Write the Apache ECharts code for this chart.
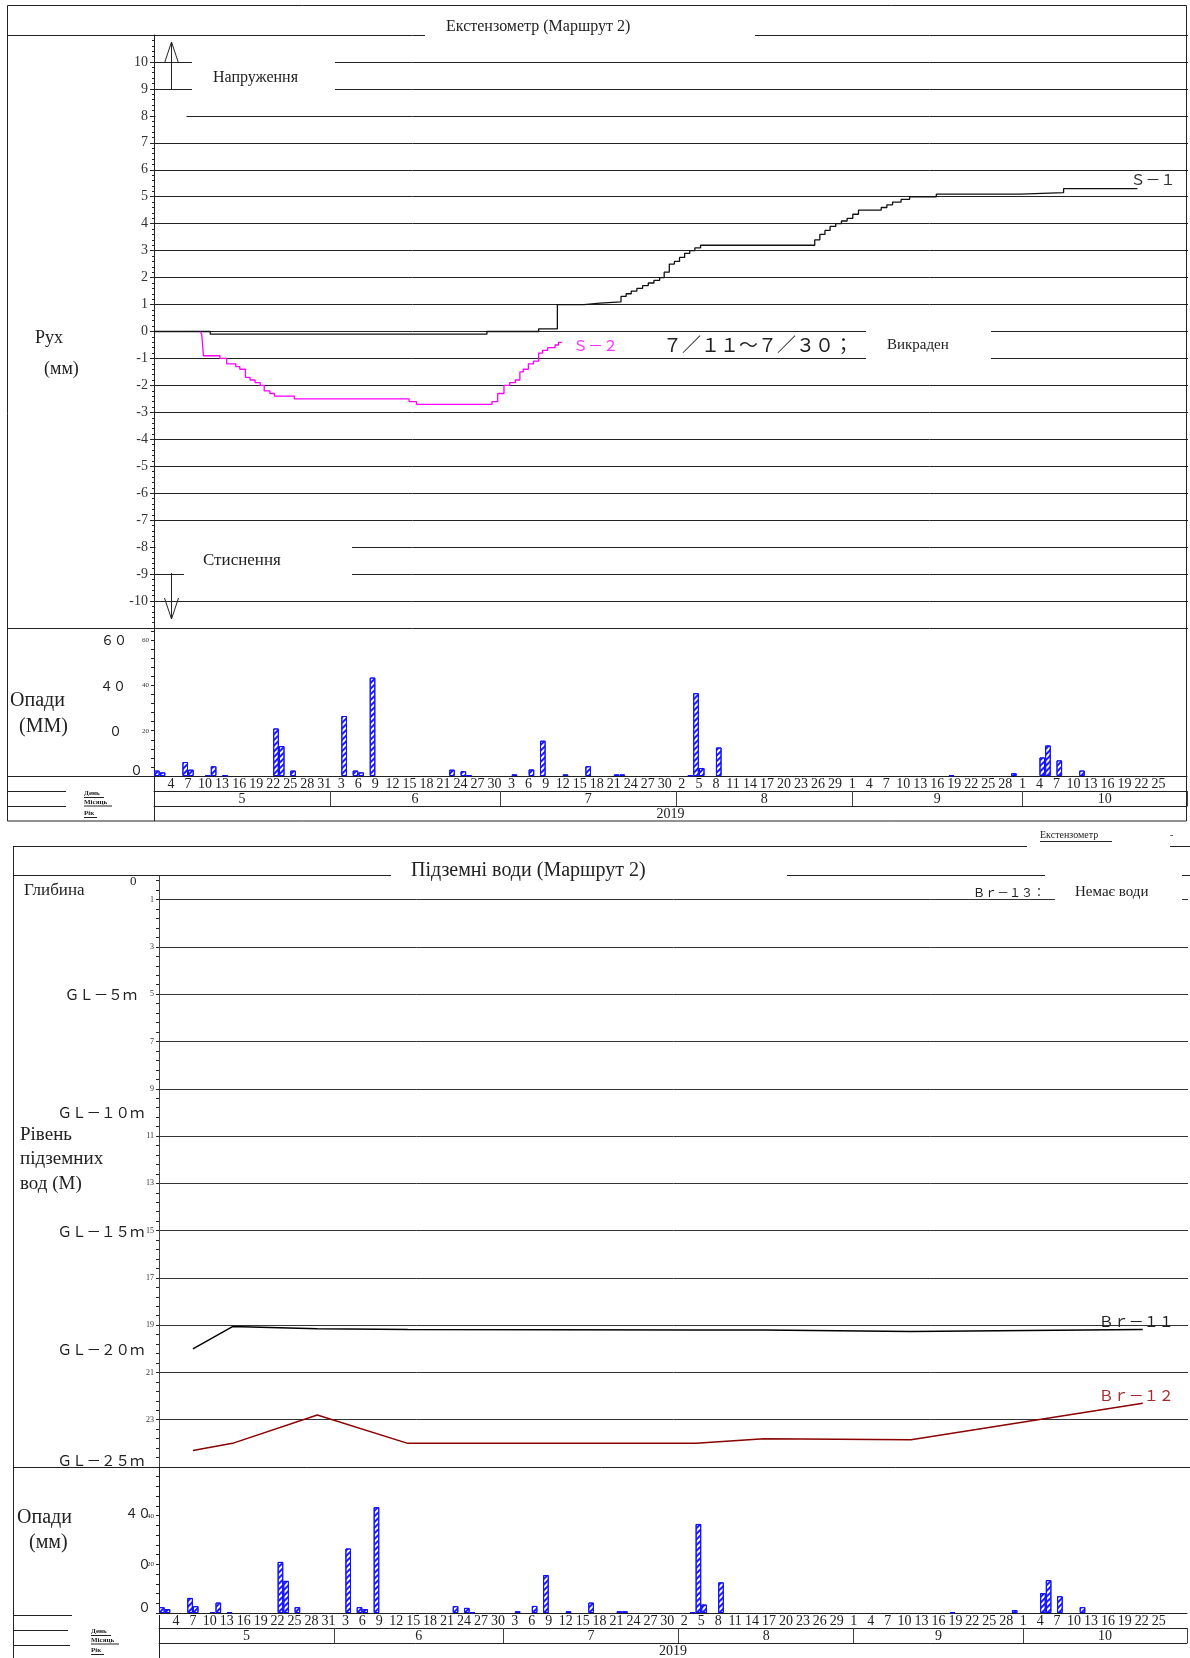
<!DOCTYPE html>
<html>
<head>
<meta charset="utf-8">
<script src="https://cdn.jsdelivr.net/npm/echarts@6/dist/echarts.min.js"></script>
<style>
  html, body { margin: 0; padding: 0; background: #fff; }
  #c { width: 1190px; height: 1658px; }
</style>
</head>
<body>
<div id="c"></div>
<script>
// Day numbers count from 1 May 2019 (day 0); the time axis runs to day 182.
const BASE = Date.UTC(2019, 4, 1);
const DAY_END = 182;

// Extensometer S-1: day a reading level starts, displacement (mm)
const s1Day = [0, 9.9, 58.6, 67.7, 71.0, 75.7, 78.5, 82.2, 83.1, 84.0, 85.0, 86.0, 87.0, 88.0, 89.0, 89.8, 90.7, 91.6, 92.5, 93.4, 94.3, 95.2, 96.2, 116.3, 117.2, 118.1, 119.0, 120.0, 121.0, 122.0, 123.0, 124.0, 128.0, 129.0, 130.0, 131.5, 133.0, 137.7, 152.6, 160.1, 173.1];
const s1Mm  = [0, -0.1, 0, 0.1, 1.0, 1.05, 1.1, 1.3, 1.4, 1.5, 1.6, 1.7, 1.8, 1.9, 2.0, 2.2, 2.5, 2.6, 2.75, 2.9, 3.0, 3.1, 3.2, 3.4, 3.6, 3.75, 3.9, 4.0, 4.1, 4.2, 4.35, 4.5, 4.6, 4.7, 4.8, 4.9, 5.0, 5.1, 5.15, 5.3, 5.3];

// Extensometer S-2 (stolen 7/11 - 7/30, record stops)
const s2Day = [8.1, 8.4, 8.7, 11.6, 12.8, 14.4, 15.1, 16.1, 16.9, 17.8, 18.7, 19.4, 20.4, 21.2, 24.7, 44.9, 46.2, 59.5, 60.5, 61.6, 62.6, 63.6, 64.4, 65.0, 65.9, 66.8, 67.7, 68.4, 69.3, 70.6, 71.2, 71.8];
const s2Mm  = [0, -0.1, -0.9, -1.0, -1.2, -1.3, -1.4, -1.7, -1.8, -1.9, -2.0, -2.2, -2.3, -2.4, -2.5, -2.6, -2.7, -2.6, -2.3, -2.0, -1.9, -1.8, -1.5, -1.4, -1.2, -1.1, -0.8, -0.7, -0.6, -0.5, -0.4, -0.4];

// Daily rainfall (mm)
const rainDay = [0, 1, 5, 6, 9, 10, 12, 21, 22, 24, 33, 35, 36, 38, 52, 54, 55, 63, 66, 68, 72, 76, 81, 82, 94, 95, 96, 99, 140, 151, 156, 157, 159, 163];
const rainMm  = [2.4, 1.6, 6.2, 2.8, 0.4, 4.3, 0.3, 21.0, 13.2, 2.4, 26.5, 2.4, 1.6, 43.5, 2.8, 2.1, 0.3, 0.7, 2.9, 15.6, 0.7, 4.3, 0.7, 0.7, 0.3, 36.6, 3.5, 12.6, 0.3, 1.2, 8.2, 13.5, 6.9, 2.4];

// Groundwater depth below ground level (m)
const gwDay      = [6, 13, 28, 44, 95, 107, 133, 174];
const br11Depth  = [20.0, 19.06, 19.15, 19.18, 19.2, 19.2, 19.27, 19.18];
const br12Depth  = [24.3, 24.0, 22.8, 24.0, 24.0, 23.8, 23.85, 22.3];

// Calendar rows
const monthStartDay = [0, 31, 61, 92, 123, 153];
const monthLabel = ['5', '6', '7', '8', '9', '10'];
const yearLabel = '2019';

// Axis tick values
const moveTicks = [-10, -9, -8, -7, -6, -5, -4, -3, -2, -1, 0, 1, 2, 3, 4, 5, 6, 7, 8, 9, 10];
const depthLabels = [1, 3, 5, 7, 9, 11, 13, 15, 17, 19, 21, 23];
const glLabels = ['ＧＬ－５ｍ', 'ＧＬ－１０ｍ', 'ＧＬ－１５ｍ', 'ＧＬ－２０ｍ', 'ＧＬ－２５ｍ'];

const SERIF = '"Liberation Serif", "Times New Roman", serif';
const CJK = '"Noto Sans CJK JP", sans-serif';
const INK = '#222';

const pairs = (xs, ys, dx) => xs.map((x, i) => [x + (dx || 0), ys[i]]);
const dayOfMonth = d => new Date(BASE + d * 86400000).getUTCDate();
const monthEdges = monthStartDay.concat([DAY_END]);
const monthMid = monthStartDay.map((d, i) => (d + monthEdges[i + 1]) / 2);
const range = (a, b, s) => { const r = []; for (let v = a; v <= b + 1e-9; v += s) r.push(+v.toFixed(2)); return r; };

function calendarAxes(gridIndex) {
  const base = { type: 'value', gridIndex, min: 0, max: DAY_END, position: 'bottom', splitLine: { show: false } };
  return [
    Object.assign({}, base, {
      interval: 3,
      axisLine: { show: true, onZero: false, lineStyle: { color: INK, width: 1 } },
      axisTick: { show: false },
      axisLabel: { margin: 1, fontFamily: SERIF, fontSize: 14, color: INK,
        formatter: v => (v <= 0 || v >= 180) ? '' : String(dayOfMonth(v)) }
    }),
    Object.assign({}, base, {
      offset: 15,
      axisLine: { show: true, onZero: false, lineStyle: { color: INK, width: 1 } },
      axisTick: { show: true, customValues: monthEdges, length: 15, lineStyle: { color: '#444' } },
      axisLabel: { customValues: monthMid, margin: 1, fontFamily: SERIF, fontSize: 14, color: INK,
        formatter: v => monthLabel[monthMid.findIndex(m => Math.abs(m - v) < 0.01)] || '' }
    }),
    Object.assign({}, base, {
      offset: 30,
      axisLine: { show: true, onZero: false, lineStyle: { color: INK, width: 1 } },
      axisTick: { show: false },
      axisLabel: { customValues: [DAY_END / 2], margin: 1, fontFamily: SERIF, fontSize: 14, color: INK,
        formatter: () => yearLabel }
    })
  ];
}

const hatch = {
  color: '#ffffff',
  borderColor: '#1010ff',
  borderWidth: 1,
  decal: { symbol: 'rect', symbolSize: 1, color: '#1a1aff', dashArrayX: [1, 0], dashArrayY: [1.3, 1.3], rotation: -Math.PI / 4 }
};

// ---------- fixed frame, captions and separators ----------
const G = [];
const ln = (x1, y1, x2, y2, c) => G.push({ type: 'line', z: 100, silent: true, shape: { x1, y1, x2, y2 }, style: { stroke: c || INK, lineWidth: 1 } });
const box = (x, y, width, height, z) => G.push({ type: 'rect', z: z || 100, silent: true, shape: { x, y, width, height }, style: { fill: '#fff' } });
const tx = (x, y, text, font, opt) => G.push(Object.assign({ type: 'text', z: 101, silent: true, x, y,
  style: Object.assign({ text, font, fill: INK, textAlign: 'left', textVerticalAlign: 'middle' }, (opt || {})) }));
// vertical arrow from y0 to the tip at y1; the head opens back toward y0
const arrow = (x, y0, y1) => {
  const back = y0 > y1 ? 21 : -21;
  G.push({ type: 'polyline', z: 100, silent: true, shape: { points: [[x, y0], [x, y1]] }, style: { stroke: INK, lineWidth: 1, fill: null } });
  G.push({ type: 'polyline', z: 100, silent: true, shape: { points: [[x - 7, y1 + back], [x, y1], [x + 7, y1 + back]] }, style: { stroke: INK, lineWidth: 1, fill: null } });
};

// upper frame
G.push({ type: 'rect', z: 100, silent: true, shape: { x: 7.5, y: 5.5, width: 1179, height: 815.5 }, style: { fill: null, stroke: INK, lineWidth: 1 } });
ln(7, 35.5, 154, 35.5);
box(425, 31, 330, 9);
tx(446, 27, 'Екстензометр (Маршрут 2)', '16px ' + SERIF);
ln(7, 628.5, 154, 628.5);
ln(7, 776.5, 154, 776.5);
ln(7, 791.5, 66, 791.5);
ln(7, 806.5, 66, 806.5);
ln(154.5, 776, 154.5, 821);
tx(84, 793, 'День', 'bold 7px ' + SERIF); ln(84, 797.5, 104, 797.5);
tx(84, 802, 'Місяць', 'bold 7px ' + SERIF); ln(84, 806.0, 112, 806.0);
tx(84, 813, 'Рік', 'bold 7px ' + SERIF); ln(84, 817.5, 97, 817.5);
tx(35, 338, 'Рух', '18px ' + SERIF);
tx(44, 369, '(мм)', '18px ' + SERIF);
tx(10, 701, 'Опади', '20px ' + SERIF);
tx(19, 727, '(ММ)', '20px ' + SERIF);
tx(127, 640, '６０', '13px ' + CJK, { textAlign: 'right' });
tx(126, 686, '４０', '13px ' + CJK, { textAlign: 'right' });
tx(122, 731, '０', '13px ' + CJK, { textAlign: 'right' });
tx(143, 770, '０', '13px ' + CJK, { textAlign: 'right' });

// tension / compression captions
box(192, 57, 143, 37);
box(155.5, 112, 31, 8);
tx(213, 78, 'Напруження', '16px ' + SERIF);
arrow(171.5, 89, 42);
box(184, 540, 168, 38);
box(155.5, 542, 29, 8);
tx(203, 561, 'Стиснення', '17px ' + SERIF);
arrow(171.5, 573, 619);

// S-2 note
tx(663, 345, '７／１１～７／３０；', '19px ' + CJK);
box(866, 325, 125, 40);
tx(887, 345, 'Викраден', '15px ' + SERIF);

// between panels
tx(1040, 835, 'Екстензометр', '10px ' + SERIF);
ln(1040, 841.5, 1112, 841.5);
tx(1170, 835, '-', '10px ' + SERIF);

// lower frame
ln(13.5, 846, 13.5, 1658);
ln(13, 846.5, 1027, 846.5);
ln(1170, 846.5, 1190, 846.5);
ln(13, 875.5, 391, 875.5);
ln(787, 875.5, 1045, 875.5);
ln(1182, 875.5, 1190, 875.5);
tx(411, 871, 'Підземні води (Маршрут 2)', '20px ' + SERIF);
tx(24, 891, 'Глибина', '17px ' + SERIF);
tx(130, 882, '0', '13px ' + SERIF);
[994, 1112, 1231, 1349, 1460].forEach((y, i) => tx(101, y, glLabels[i], '14.5px ' + CJK, { textAlign: 'center' }));
tx(20, 1135, 'Рівень', '19px ' + SERIF);
tx(20, 1159, 'підземних', '19px ' + SERIF);
tx(20, 1184, 'вод (М)', '19px ' + SERIF);
box(1055, 894, 127, 8);
tx(973, 892, 'Ｂｒ－１３：', '12px ' + CJK);
tx(1075, 892, 'Немає води', '15px ' + SERIF);
ln(13, 1467.5, 1190, 1467.5);

// lower rainfall panel
tx(17, 1518, 'Опади', '20px ' + SERIF);
tx(29, 1543, '(мм)', '20px ' + SERIF);
tx(151, 1513, '４０', '13px ' + CJK, { textAlign: 'right' });
tx(151, 1564, '２０', '13px ' + CJK, { textAlign: 'right' });
box(115, 1555, 21, 18, 102);
tx(151, 1607, '０', '13px ' + CJK, { textAlign: 'right' });
ln(13, 1615.5, 72, 1615.5);
ln(13, 1630.5, 68, 1630.5);
ln(13, 1645.5, 70, 1645.5);
ln(159.5, 1615, 159.5, 1658);
tx(91, 1631, 'День', 'bold 7px ' + SERIF); ln(91, 1635.5, 111, 1635.5);
tx(91, 1640, 'Місяць', 'bold 7px ' + SERIF); ln(91, 1644.0, 119, 1644.0);
tx(91, 1650, 'Рік', 'bold 7px ' + SERIF); ln(91, 1654.5, 104, 1654.5);

const hiddenX = gridIndex => ({ type: 'value', gridIndex, min: 0, max: DAY_END, show: false });

const option = {
  animation: false,
  backgroundColor: '#fff',
  grid: [
    { left: 154, top: 35, width: 1034, height: 593 },
    { left: 154, top: 628, width: 1034, height: 148 },
    { left: 159, top: 876, width: 1029, height: 591 },
    { left: 159, top: 1467, width: 1029, height: 148.5 }
  ],
  xAxis: [hiddenX(0)].concat(calendarAxes(1), [hiddenX(2)], calendarAxes(3)),
  yAxis: [
    { type: 'value', gridIndex: 0, min: -11, max: 11, interval: 1,
      axisLine: { show: true, lineStyle: { color: INK } },
      axisTick: { show: true, length: 4, lineStyle: { color: INK } },
      minorTick: { show: true, splitNumber: 5, length: 2, lineStyle: { color: INK } },
      splitLine: { show: true, lineStyle: { color: INK, width: 1 } },
      axisLabel: { margin: 6, fontFamily: SERIF, fontSize: 14, color: '#333',
        formatter: v => moveTicks.indexOf(v) >= 0 ? String(v) : '' } },
    { type: 'value', gridIndex: 1, min: 0, max: 65.4,
      axisLine: { show: true, lineStyle: { color: INK } },
      axisTick: { show: true, length: 3, customValues: range(0, 64, 4), lineStyle: { color: INK } },
      splitLine: { show: false },
      axisLabel: { customValues: [20, 40, 60], margin: 5, fontFamily: SERIF, fontSize: 7, color: '#333' } },
    { type: 'value', gridIndex: 2, min: 0, max: 25, inverse: true,
      axisLine: { show: true, lineStyle: { color: '#444' } },
      axisTick: { show: true, length: 3, customValues: range(0.2, 25, 0.4), lineStyle: { color: INK } },
      splitLine: { show: false },
      axisLabel: { customValues: depthLabels, margin: 5, fontFamily: SERIF, fontSize: 8, color: '#333' } },
    { type: 'value', gridIndex: 3, min: 0, max: 60,
      axisLine: { show: true, lineStyle: { color: INK } },
      axisTick: { show: true, length: 3, customValues: range(0, 56, 4), lineStyle: { color: INK } },
      splitLine: { show: false },
      axisLabel: { customValues: [20, 40], margin: 5, fontFamily: SERIF, fontSize: 7, color: '#333' } }
  ],
  series: [
    { name: 'S-1', type: 'line', xAxisIndex: 0, yAxisIndex: 0, step: 'end', showSymbol: false, silent: true,
      data: pairs(s1Day, s1Mm), lineStyle: { color: '#111', width: 1.3 }, z: 5,
      endLabel: { show: true, formatter: 'Ｓ－１', color: '#333', fontFamily: CJK, fontSize: 15, offset: [-15, -9] } },
    { name: 'S-2', type: 'line', xAxisIndex: 0, yAxisIndex: 0, step: 'end', showSymbol: false, silent: true,
      data: pairs(s2Day, s2Mm), lineStyle: { color: '#ff00ff', width: 1.3 }, z: 5,
      endLabel: { show: true, formatter: 'Ｓ－２', color: '#ff33ff', fontFamily: CJK, fontSize: 15, offset: [3, 3] } },
    { name: 'rain-top', type: 'bar', xAxisIndex: 1, yAxisIndex: 1, barWidth: 5.6, silent: true,
      data: pairs(rainDay, rainMm, 0.5), itemStyle: hatch },
    { name: 'Br-11', type: 'line', xAxisIndex: 4, yAxisIndex: 2, showSymbol: false, silent: true,
      data: pairs(gwDay, br11Depth), lineStyle: { color: '#000', width: 1.5 }, z: 5,
      endLabel: { show: true, formatter: 'Ｂｒ－１１', color: '#222', fontFamily: CJK, fontSize: 15, offset: [-52, -8] },
      markLine: { silent: true, symbol: ['none', 'none'], label: { show: false }, z: 1,
        lineStyle: { color: '#333', width: 1, type: 'solid' },
        data: depthLabels.map(v => ({ yAxis: v })) } },
    { name: 'Br-12', type: 'line', xAxisIndex: 4, yAxisIndex: 2, showSymbol: false, silent: true,
      data: pairs(gwDay, br12Depth), lineStyle: { color: '#8b0000', width: 1.5 }, z: 5,
      endLabel: { show: true, formatter: 'Ｂｒ－１２', color: '#a52a2a', fontFamily: CJK, fontSize: 15, offset: [-52, -8] } },
    { name: 'rain-bottom', type: 'bar', xAxisIndex: 5, yAxisIndex: 3, barWidth: 5.6, silent: true,
      data: pairs(rainDay, rainMm, 0.5), itemStyle: hatch }
  ],
  graphic: { elements: G }
};

const chart = echarts.init(document.getElementById('c'));
chart.setOption(option);
</script>
</body>
</html>
